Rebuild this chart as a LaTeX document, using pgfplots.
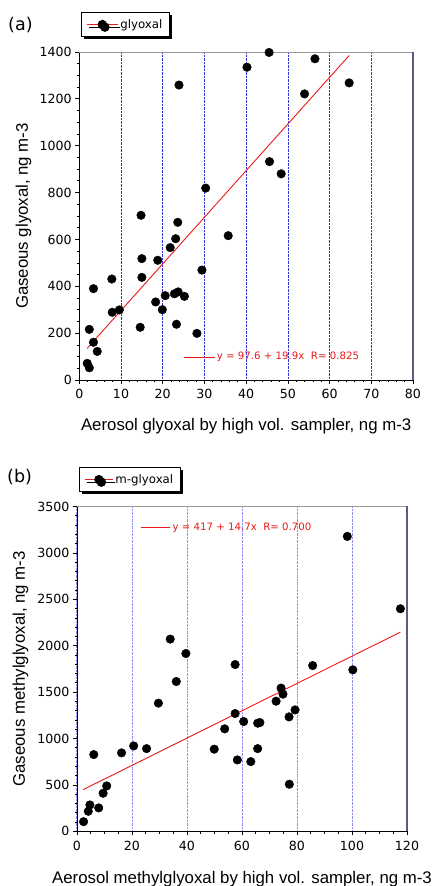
\documentclass[border=0pt]{standalone}
\usepackage{fontspec}
\setmainfont{Liberation Sans}
\newfontfamily\dejavu{DejaVu Sans}
\usepackage{pgfplots}
\pgfplotsset{compat=1.18}
\usetikzlibrary{shadows}
\definecolor{gridblue}{RGB}{50,50,225}
\definecolor{gridblueb}{RGB}{140,140,245}
\definecolor{edgecol}{RGB}{90,90,130}
\definecolor{fitred}{RGB}{235,25,25}

\pgfplotstableread{
x y
1.9 71
2.4 52
2.4 216
3.4 161
4.3 122
3.4 390
7.8 431
7.9 289
9.6 299
14.6 225
15.0 438
15.0 518
14.8 703
18.8 511
18.3 333
19.9 300
20.6 360
21.8 565
23.1 603
23.6 673
22.8 368
23.7 376
25.2 357
23.3 238
28.2 199
29.4 469
35.7 616
30.3 819
23.9 1259
40.2 1335
45.5 1398
45.6 932
48.4 880
54.0 1221
56.5 1371
64.7 1268
}\glyoxal

\pgfplotstableread{
x y
2.4 104
4.1 216
4.7 284
7.9 252
9.5 410
10.8 489
6.1 827
16.2 845
20.6 920
25.3 891
29.6 1381
36.1 1614
33.9 2071
39.6 1916
49.9 885
53.7 1104
57.5 1269
57.5 1797
58.3 769
60.6 1183
63.2 751
65.7 891
65.7 1165
66.5 1172
72.4 1402
74.2 1543
74.9 1478
77.1 1233
79.3 1308
77.2 507
85.7 1786
98.3 3178
100.3 1740
117.6 2398
}\mglyoxal

\begin{document}
\begin{tikzpicture}
\useasboundingbox (0pt,0pt) rectangle (431pt,886pt);
\pgfplotsset{
  myaxis/.style={
    scale only axis,
    anchor=south west,
    axis lines*=left,
    axis line style={-, black, line width=0.8pt},
    tick align=outside,
    major tick length=4pt, minor tick length=2.2pt,
    every tick/.style={black, line width=0.7pt},
    tick label style={font=\dejavu\fontsize{12.6}{13}\selectfont},
    xticklabel style={yshift=-2pt},
    /pgf/number format/assume math mode=true,
    /pgf/number format/1000 sep={},
    label style={font=\fontsize{16.8}{18}\selectfont},
    xmajorgrids,
    clip=false,
    legend cell align=left,
  },
  mylegend/.style={
    legend style={at={#1}, anchor=north west, draw=black, line width=0.8pt,
      fill=white, font=\dejavu\fontsize{11.8}{12}\selectfont, inner xsep=5pt, inner ysep=5pt,
      drop shadow={shadow xshift=2.5pt, shadow yshift=-2.5pt, opacity=1, fill=black}},
  },
}
% ---------- panel (a)
\begin{axis}[myaxis,
  at={(79.3pt,506pt)}, width=333.7pt, height=328pt,
  xmin=0, xmax=80, ymin=0, ymax=1400,
  xtick={0,10,...,80}, ytick={0,200,...,1400},
  minor x tick num=4, minor y tick num=3,
  major grid style={gridblue, densely dotted, line width=0.7pt},
  xlabel={Aerosol glyoxal by high vol. sampler, ng m-3},
  ylabel={Gaseous glyoxal, ng m-3},
  xlabel style={at={(axis description cs:0.5,-0.155)}, anchor=base},
  ylabel style={at={(axis description cs:-0.154,0.5)}, anchor=base},
  mylegend={(0.005,1.122)},
]
\addlegendimage{legend image code/.code={\draw[fitred, line width=1pt] (0pt,0pt)--(31pt,0pt); \fill[black] (15.5pt,0pt) circle (4.3pt);}}
\addlegendentry{glyoxal}
\draw[gray!80, line width=0.8pt] (rel axis cs:0,1) -- (rel axis cs:1,1);
\draw[edgecol, line width=1.6pt] (rel axis cs:1,0) -- (rel axis cs:1,1);
\addplot[fitred, line width=0.9pt, forget plot] coordinates {(1.9,135.4) (64.7,1385.1)};
\addplot[only marks, mark=*, mark size=4.3pt, mark options={fill=black, draw=black}, forget plot] table {\glyoxal};
\addplot[fitred, line width=0.9pt, forget plot] coordinates {(25.1,98) (32.5,98)};
\node[anchor=west, text=fitred, font=\dejavu\fontsize{10.2}{11}\selectfont, inner sep=1pt] at (axis cs:32.7,98) {y = 97.6 + 19.9x\ \ R= 0.825};
\end{axis}
% ---------- panel (b)
\begin{axis}[myaxis,
  at={(77pt,54.7pt)}, width=330pt, height=324.8pt,
  xmin=0, xmax=120, ymin=0, ymax=3500,
  xtick={0,20,...,120}, ytick={0,500,...,3500},
  minor x tick num=3, minor y tick num=4,
  major grid style={gridblueb, densely dotted, line width=1pt},
  xlabel={Aerosol methylglyoxal by high vol. sampler, ng m-3},
  ylabel={Gaseous methylglyoxal, ng m-3},
  xlabel style={at={(axis description cs:0.5,-0.162)}, anchor=base},
  ylabel style={at={(axis description cs:-0.158,0.5)}, anchor=base},
  mylegend={(0.006,1.1216)},
]
\addlegendimage{legend image code/.code={\draw[fitred, line width=1pt] (0pt,0pt)--(28pt,0pt); \fill[black] (14pt,0pt) circle (4.3pt);}}
\addlegendentry{m-glyoxal}
\draw[gray!80, line width=0.8pt] (rel axis cs:0,1) -- (rel axis cs:1,1);
\draw[edgecol, line width=1.6pt] (rel axis cs:1,0) -- (rel axis cs:1,1);
\addplot[fitred, line width=0.9pt, forget plot] coordinates {(2.2,449) (117.6,2146)};
\addplot[only marks, mark=*, mark size=4.3pt, mark options={fill=black, draw=black}, forget plot] table {\mglyoxal};
\addplot[fitred, line width=0.9pt, forget plot] coordinates {(23.2,3272) (33.8,3272)};
\node[anchor=west, text=fitred, font=\dejavu\fontsize{10.2}{11}\selectfont, inner sep=1pt] at (axis cs:34.3,3272) {y = 417 + 14.7x\ \ R= 0.700};
\end{axis}
\node[anchor=base west, inner sep=0pt, font=\dejavu\fontsize{17.5}{19}\selectfont] at (8pt,855.3pt) {(a)};
\node[anchor=base west, inner sep=0pt, font=\dejavu\fontsize{17.5}{19}\selectfont] at (7pt,403pt) {(b)};
\end{tikzpicture}
\end{document}
